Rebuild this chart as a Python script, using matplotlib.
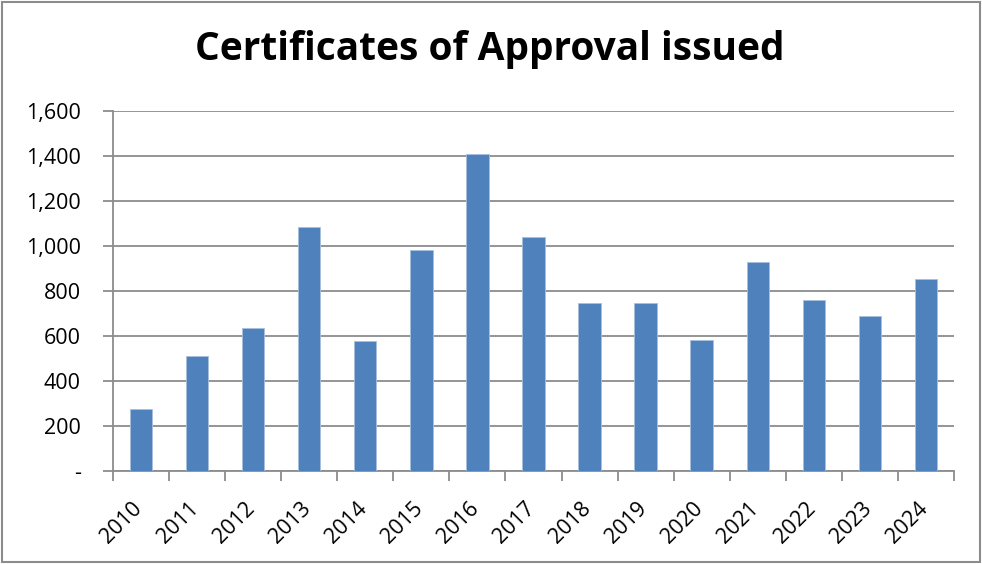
import matplotlib
matplotlib.use("Agg")
import matplotlib.pyplot as plt
from matplotlib.ticker import FuncFormatter
import numpy as np

years = ["2010", "2011", "2012", "2013", "2014", "2015", "2016", "2017",
         "2018", "2019", "2020", "2021", "2022", "2023", "2024"]
certificates = [277, 513, 634, 1086, 578, 984, 1411, 1040,
                748, 747, 584, 931, 760, 691, 852]
title = "Certificates of Approval issued"

plt.rcParams['font.family'] = ['Open Sans', 'DejaVu Sans']

fig = plt.figure(figsize=(9.82, 5.64), dpi=100)
ax = fig.add_axes([0.115, 0.165, 0.8565, 0.638])

x = np.arange(len(years))
ax.bar(x, certificates, width=0.4, color='#4F81BD', edgecolor='#A7C0DE',
       linewidth=0.6, zorder=3)

ax.set_xlim(-0.5, len(years) - 0.5)
ax.set_ylim(0, 1600)
ax.set_yticks(np.arange(0, 1601, 200))
ax.yaxis.set_major_formatter(FuncFormatter(lambda v, p: '-' if v == 0 else f"{int(v):,}"))
ax.grid(axis='y', color='#8C8C8C', linewidth=1.3, zorder=0)

ax.set_xticks(x - 0.03)
ax.set_xticklabels(years, rotation=45, ha='right', va='center', fontsize=15.5,
                   rotation_mode='anchor')
ax.set_xticks(np.arange(-0.5, len(years), 1), minor=True)
ax.tick_params(axis='x', which='major', length=0, pad=25)
ax.tick_params(axis='x', which='minor', length=7, color='#8C8C8C', width=1.3)
ax.tick_params(axis='y', length=7, color='#8C8C8C', width=1.3, labelsize=15.5, pad=16)

for s in ['top', 'right']:
    ax.spines[s].set_visible(False)
for s in ['left', 'bottom']:
    ax.spines[s].set_color('#8C8C8C')
    ax.spines[s].set_linewidth(1.3)

fig.text(0.499, 0.912, title, ha='center', va='center', fontsize=28,
         fontweight='bold')

border = plt.Rectangle((0.002, 0.003), 0.996, 0.994, transform=fig.transFigure,
                       fill=False, edgecolor='#8C8C8C', linewidth=1.5)
fig.patches.append(border)

fig.savefig("out.png", dpi=100)
